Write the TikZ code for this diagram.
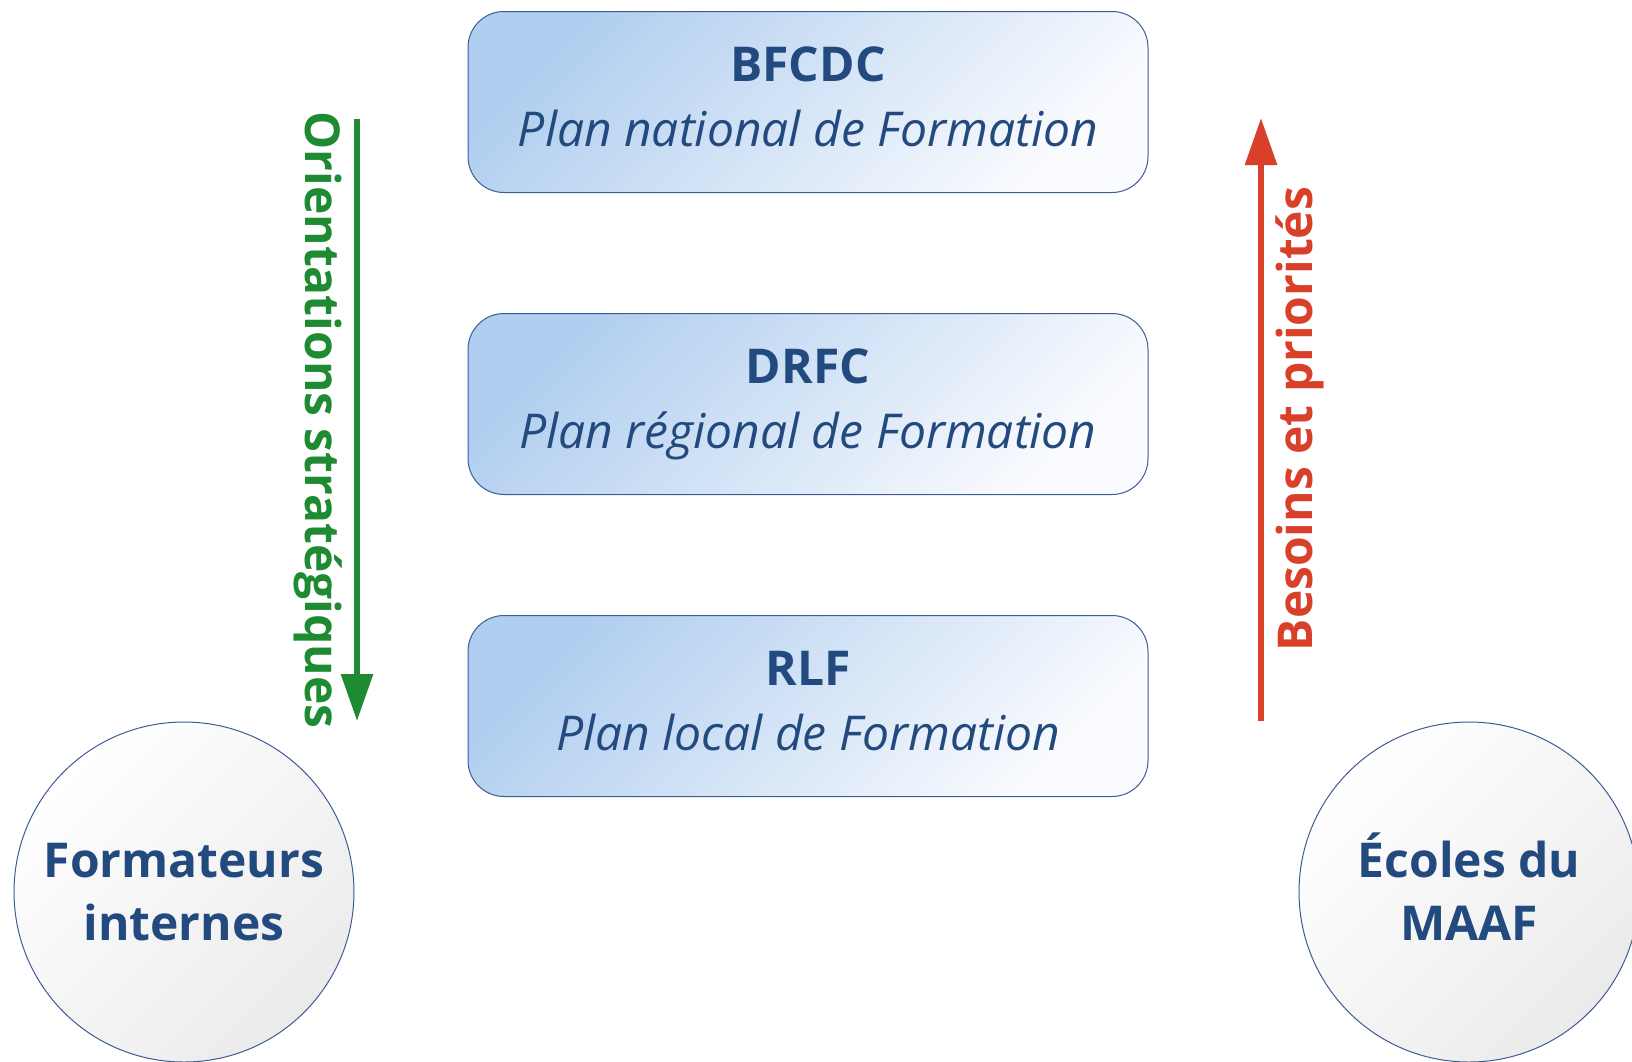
\documentclass[tikz,border=0pt]{standalone}
\usepackage{fontspec}
\setmainfont{Open Sans}
\usetikzlibrary{arrows.meta}
\definecolor{navy}{RGB}{35,74,126}
\definecolor{boxline}{RGB}{62,92,148}
\definecolor{boxA}{RGB}{176,206,239}
\definecolor{boxB}{RGB}{250,251,254}
\definecolor{circA}{RGB}{255,255,255}
\definecolor{circB}{RGB}{236,235,236}
\definecolor{gr}{RGB}{30,138,50}
\definecolor{rd}{RGB}{217,64,42}
\newcommand{\topstrut}[1]{\rule{0pt}{#1}}
\newcommand{\botstrut}[1]{\rule[-#1]{0pt}{#1}}
\tikzset{
  planbox/.style={draw=boxline, line width=1pt, rounded corners=36pt,
    top color=boxA, bottom color=boxB, shading angle=45,
    minimum width=680pt, minimum height=181pt, inner sep=0pt,
    align=center, text=navy, font=\fontsize{48}{65}\selectfont},
  actor/.style={circle, draw=boxline, line width=1pt,
    top color=circA, bottom color=circB, shading angle=45,
    minimum size=340pt, inner sep=0pt, align=center, text=navy,
    font=\fontsize{48}{63.5}\selectfont\bfseries},
  flow/.style={line width=6pt},
  sidelabel/.style={font=\fontsize{48}{58}\selectfont\bfseries, inner sep=0pt}
}
\begin{document}
\begin{tikzpicture}[x=1pt,y=-1pt]
\useasboundingbox (0,0) rectangle (1632,1061);
\node[planbox] (b1) at (808,102) {\topstrut{48pt}\textbf{BFCDC}\\\textit{Plan national de Formation}\botstrut{24pt}};
\node[planbox] (b2) at (808,404) {\topstrut{48pt}\textbf{DRFC}\\\textit{Plan régional de Formation}\botstrut{24pt}};
\node[planbox] (b3) at (808,706) {\topstrut{48pt}\textbf{RLF}\\\textit{Plan local de Formation}\botstrut{24pt}};
\node[actor] (c1) at (184,892) {\topstrut{46pt}Formateurs\\internes\botstrut{12pt}};
\node[actor] (c2) at (1469,892) {\topstrut{46pt}Écoles du\\MAAF\botstrut{12pt}};
\coordinate (g1) at (357,119);
\coordinate (g2) at (357,721);
\coordinate (r1) at (1261,721);
\coordinate (r2) at (1261,118);
\draw[flow, draw=gr, -{Triangle[width=31pt,length=47pt]}] (g1) -- (g2);
\draw[flow, draw=rd, -{Triangle[width=31pt,length=47pt]}] (r1) -- (r2);
\node[sidelabel, text=gr, rotate=-90] (gl) at (318,420) {Orientations stratégiques};
\node[sidelabel, text=rd, rotate=90] (rl) at (1300,419) {Besoins et priorités};
\end{tikzpicture}
\end{document}
